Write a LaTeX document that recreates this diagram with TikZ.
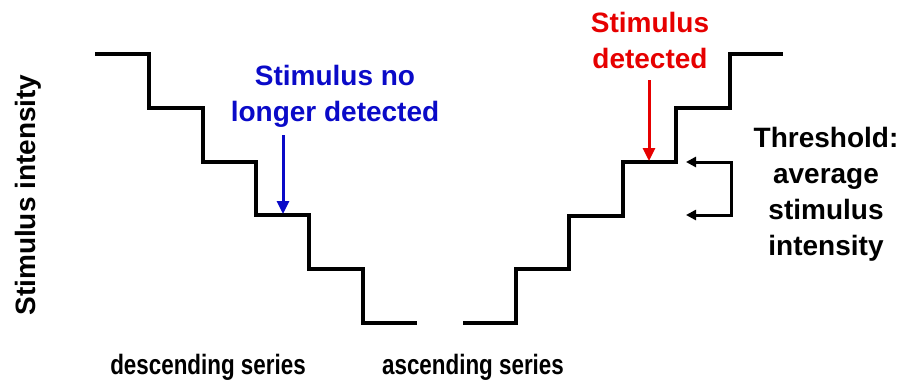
\documentclass[tikz,border=0pt]{standalone}
\usepackage{fontspec}
\setmainfont{Liberation Sans}
\newfontfamily\narrowfont{Liberation Sans}[FakeStretch=0.8]
\usetikzlibrary{arrows.meta}
\definecolor{detblue}{RGB}{10,10,200}
\definecolor{detred}{RGB}{230,0,0}

\begin{document}
\begin{tikzpicture}[x=1pt,y=-1pt,
    stair/.style={line width=3.5pt},
    pointer/.style={line width=3pt,-{Triangle[width=12pt,length=13pt]}},
    bigtext/.style={font=\fontsize{28}{36}\selectfont\bfseries,align=center},
    bottomtext/.style={font=\narrowfont\fontsize{28}{32}\selectfont\bfseries}]
        \useasboundingbox (0,0) rectangle (906,381);
        % staircases
        \draw [stair] (95,54) -| (149,108) -| (203,162) -| (256,215)
                      -| (309,269) -| (363,323) -- (417,323);
        \draw [stair] (463,323) -| (516,269) -| (569,216) -| (623,162)
                      -| (676,108) -| (730,54) -- (783,54);
        % where the arrows point
        \coordinate (lostTail) at (283,135);
        \coordinate (lostTip) at (283,214);
        \coordinate (foundTail) at (649,80);
        \coordinate (foundTip) at (649,161);
        \coordinate (upperGap) at (686,162);
        \coordinate (lowerGap) at (686,215);
        \coordinate (bracketTop) at (731,162);
        \coordinate (bracketBottom) at (731,215);
        \draw [pointer,detblue] (lostTail) -- (lostTip);
        \draw [pointer,detred] (foundTail) -- (foundTip);
        \draw [line width=3pt,{Triangle[width=10pt,length=10pt]}-{Triangle[width=10pt,length=10pt]}]
              (upperGap) -- (bracketTop) -- (bracketBottom) -- (lowerGap);
        % texts
        \node [bigtext,text=detblue] (noLonger) at (335,96) {Stimulus no\\longer detected};
        \node [bigtext,text=detred] (detected) at (650,40) {Stimulus\\detected};
        \node [bigtext] (threshold) at (826,194) {Threshold:\\average\\stimulus\\intensity};
        \node [bigtext,rotate=90] (yAxis) at (28,195) {Stimulus intensity};
        \node [bottomtext] (descending) at (208,367) {descending series};
        \node [bottomtext] (ascending) at (473,367) {ascending series};
    \end{tikzpicture}
\end{document}
